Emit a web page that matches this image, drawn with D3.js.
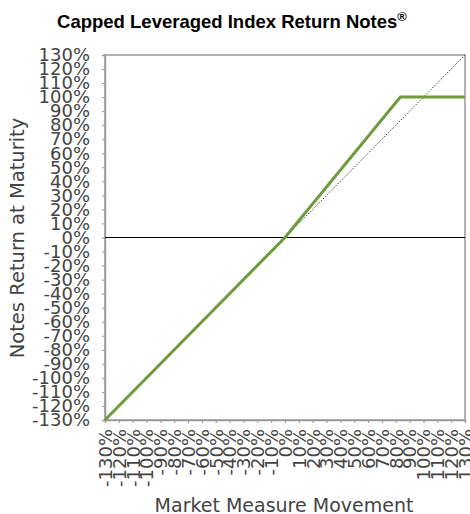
<!DOCTYPE html>
<html><head><meta charset="utf-8">
<script src="https://cdn.jsdelivr.net/npm/d3@7"></script>
<style>body{margin:0;background:#fff}svg{display:block}</style>
</head><body>
<svg id="c" width="470" height="514"></svg>
<script>
const ticks = d3.range(-130, 131, 10);
const notesX = [-130, 0, 83.33, 130];
const notesY = [-130, 0, 100, 100];
const refX = [0, 130];
const refY = [0, 130];
const fmt = v => v + "%";

const svg = d3.select("#c");
const L = 105, R = 465, T = 55, B = 420;
const x = d3.scaleLinear().domain([-130, 130]).range([L, R]);
const y = d3.scaleLinear().domain([-130, 130]).range([B, T]);
const font = "DejaVu Sans, sans-serif";
const tcol = "#444";

// title
const title = svg.append("text").attr("x", 232).attr("y", 28).attr("text-anchor", "middle")
  .attr("font-family", "Liberation Sans, Arial, sans-serif").attr("font-weight", "bold")
  .attr("font-size", 18.5).attr("fill", "#000");
title.append("tspan").text("Capped Leveraged Index Return Notes");
title.append("tspan").attr("dy", -7).attr("font-size", 13).text("®");

// plot border
svg.append("rect").attr("x", L).attr("y", T).attr("width", R - L).attr("height", B - T)
  .attr("fill", "none").attr("stroke", "#999").attr("stroke-width", 1.5);

// y axis
const ya = svg.append("g").attr("transform", `translate(${L},0)`)
  .call(d3.axisLeft(y).tickValues(ticks).tickFormat(fmt).tickSize(3).tickPadding(12));
ya.select(".domain").attr("stroke", "#999").attr("stroke-width", 1.5);
ya.selectAll(".tick line").attr("stroke", "#999");
ya.selectAll("text").attr("font-family", font).attr("font-size", 18).attr("fill", tcol);

// x axis
const xa = svg.append("g").attr("transform", `translate(0,${B})`)
  .call(d3.axisBottom(x).tickValues(ticks).tickFormat(fmt).tickSize(3));
xa.select(".domain").attr("stroke", "#999").attr("stroke-width", 1.5);
xa.selectAll(".tick line").attr("stroke", "#999");
xa.selectAll("text").attr("font-family", font).attr("font-size", 18).attr("fill", tcol)
  .attr("text-anchor", "end").attr("dy", "0.35em").attr("x", -9).attr("y", 0)
  .attr("transform", "rotate(-90)");

// zero line
svg.append("line").attr("x1", L).attr("x2", R).attr("y1", y(0)).attr("y2", y(0))
  .attr("stroke", "#000").attr("stroke-width", 1);

const line = d3.line().x(d => x(d[0])).y(d => y(d[1]));
// reference dotted line
svg.append("path").datum(refX.map((v, i) => [v, refY[i]])).attr("d", line)
  .attr("fill", "none").attr("stroke", "#444").attr("stroke-width", 1).attr("stroke-dasharray", "1.5,1.5");
// notes line
svg.append("path").datum(notesX.map((v, i) => [v, notesY[i]])).attr("d", line)
  .attr("fill", "none").attr("stroke", "#6e9c3c").attr("stroke-width", 3);

// axis titles
svg.append("text").attr("transform", "translate(24,238) rotate(-90)").attr("text-anchor", "middle")
  .attr("font-family", font).attr("font-size", 19.5).attr("fill", tcol).text("Notes Return at Maturity");
svg.append("text").attr("x", 284).attr("y", 512).attr("text-anchor", "middle")
  .attr("font-family", font).attr("font-size", 19).attr("fill", tcol).text("Market Measure Movement");
</script>
</body></html>
